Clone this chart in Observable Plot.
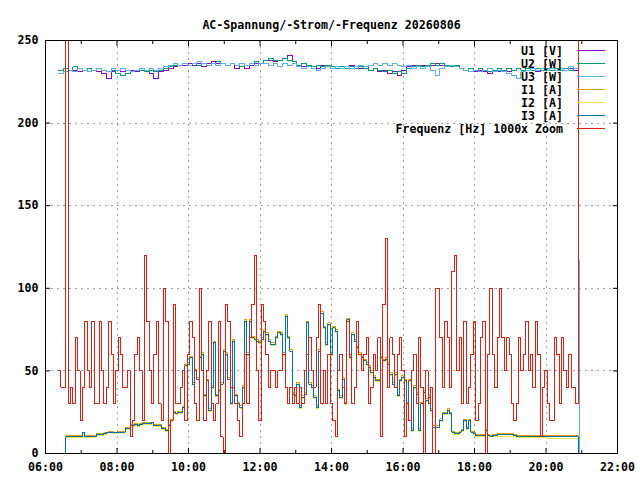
<!DOCTYPE html>
<html><head><meta charset="utf-8">
<script src="https://cdn.jsdelivr.net/npm/d3@7"></script>
<script src="https://cdn.jsdelivr.net/npm/@observablehq/plot@0.6"></script>
<style>body{margin:0;background:#fff}</style>
</head><body><div id="chart"></div>
<script>
const title = "AC-Spannung/-Strom/-Frequenz 20260806";
const seriesNames = ["U1 [V]", "U2 [W]", "U3 [W]", "I1 [A]", "I2 [A]", "I3 [A]", "Frequenz [Hz] 1000x Zoom"];
const seriesColors = ["#9400d3", "#009e73", "#56b4e9", "#e69f00", "#f0e442", "#0072b2", "#e51e10"];
const xTickLabels = ["06:00", "08:00", "10:00", "12:00", "14:00", "16:00", "18:00", "20:00", "22:00"];
const xMinorTicks = ["07:00", "09:00", "11:00", "13:00", "15:00", "17:00", "19:00", "21:00"];
const yTicks = [0, 50, 100, 150, 200, 250];

// sampling (minutes after midnight)
const fastStartMin = 382, fastStepMin = 4;   // frequency and currents
const slowStartMin = 382, slowStepMin = 8;   // voltages
const slowTailMin = [1254, 1256];           // last two voltage samples

const freq = [50,40,40,250,30,40,30,70,50,20, 40,80,50,40,80,30,30,80,50,30, 40,80,60,30,50,70,60,40,40,50,
 10,20,60,70,50,20,120,80,50,30, 60,80,30,20,100,80,0,20,90,30, 30,40,50,20,60,80,70,
 30,20,100,50,20,50,80,30,20,30, 80,10,0,90,80,40,40,30,20,10, 30,60,30,70,90,120,50,20,90,80,
 60,40,50,50,40,50,50,60,40,30, 40,30,40,30,40,30,50,60,70,50, 40,70,90,30,50,30,60,30,
 20,10,50,60,40,30,80,60,30,40, 80,60,50,60,70,30,40,60,50,70, 10,90,130,40,70,60,40,60,70,50,
 10,30,20,50,60,30,70,40,0,50, 30,40,0,100,100,70,40,80,70,40, 110,120,50,70,30,80,
 30,40,60,80,20,30,70,80,0,60, 100,60,40,70,100,70,50,70,60,30, 20,30,70,50,60,80,50,60,40,80,
 60,10,40,50,30,20,20,70,60,30, 70,50,40,60,40,40,30,250];

const i1 = [0,0,0,10.6,10.6,10.6,10.6,10.6,10.6,10.6, 13,10.6,10.6,10.6,10.6,11,12,12,12,12.5, 13,13.5,13.5,13,13,13.5,13.5,13.5,15.5,15.5,
 17.5,17.5,18,17.5,18,18.5,18.5,18.5,18.5,19, 17.5,17.5,17.5,15.5,15.5,14.5,17.5,20.5,25.5,24.5, 25.5,25.5,28.5,54,55,59,43,
 51,46,59,61,36,45,27,41,68,36, 39,43,63,61,46,31,69,36,31,29, 41,81,61,81,71,70,69,68,70,75,
 73,69,67,67,71,74,73,61,84,71, 63,37,36,43,29,35,37,80,43,41, 35,29,63,86,77,67,79,61,
 77,75,39,35,46,31,82,59,73,69, 65,61,59,57,55,53,50,47,45,45, 59,57,58,55,49,43,49,36,45,47,
 45,31,45,15,41,37,15,31,38,33, 35,27,17,17,17,21,25,25,27,25, 13.5,12.5,12.5,13.5,14.5,20.5,
 15.5,20.5,13.5,12.5,11.5,11.5,11.5,11.5,14.5,11.5, 11,11.5,11.5,12,12,12,12,12,12,12, 11.5,11,11,11,11,11,11,11,11,11,
 11,11,11,11,10.8,10.8,10.8,10.8,10.8,10.8, 10.8,10.8,10.8,10.8,10.8,10.8,10.8,0];

const i2 = [0,0,0,9.4,9.4,9.4,9.4,9.4,9.4,9.4, 12,9.4,9.4,9.4,9.4,10,11,11,11,11.5, 12,12.5,12.5,12,12,12.5,12.5,12.5,14.5,14.5,
 16.5,16.5,17,16.5,17,17.5,17.5,17.5,17.5,18, 16.5,16.5,16.5,14.5,14.5,13.5,16.5,19.5,24.5,23.5, 24.5,24.5,27.5,52.5,53.5,57.5,41.5,
 49.5,44.5,57.5,59.5,34.5,43.5,25.5,39.5,66.5,34.5, 37.5,41.5,61.5,59.5,44.5,29.5,67.5,34.5,29.5,27.5, 39.5,79.5,59.5,79.5,69.5,68.5,67.5,66.5,68.5,73.5,
 71.5,67.5,65.5,65.5,69.5,72.5,71.5,59.5,82.5,69.5, 61.5,35.5,34.5,41.5,27.5,33.5,35.5,78.5,41.5,39.5, 33.5,27.5,61.5,84.5,75.5,65.5,77.5,59.5,
 75.5,73.5,37.5,33.5,44.5,29.5,80.5,57.5,71.5,67.5, 63.5,59.5,57.5,55.5,53.5,51.5,48.5,45.5,43.5,43.5, 57.5,55.5,56.5,53.5,47.5,41.5,47.5,34.5,43.5,45.5,
 43.5,29.5,43.5,13.5,39.5,35.5,13.5,29.5,36.5,31.5, 33.5,25.5,15.5,15.5,15.5,19.5,23.5,23.5,25.5,23.5, 12.5,11.5,11.5,12.5,13.5,19.5,
 14.5,19.5,12.5,11.5,10.5,10.5,10.5,10.5,13.5,10.5, 10,10.5,10.5,10.5,10.5,10.5,10.5,10.5,10.5,10.5, 10,9.5,9.5,9.5,9.5,9.5,9.5,9.5,9.5,9.5,
 9.5,9.5,9.5,9.5,9.2,9.2,9.2,9.2,9.2,9.2, 9.2,9.2,9.2,9.2,9.2,9.2,9.2,0];

const i3 = [0,0,0,10,10,10,10,10,10,10, 12.5,10,10,10,10,10.5,11.5,11.5,11.5,12, 12.5,13,13,12.5,12.5,13,13,13,15,15,
 17,17,17.5,17,17.5,18,18,18,18,18.5, 17,17,17,15,15,14,17,20,25,24, 25,25,28,53,54,58,42,
 50,45,58,60,35,44,26,40,67,35, 38,42,62,60,45,30,68,35,30,28, 40,80,60,80,70,69,68,67,69,74,
 72,68,66,66,70,73,72,60,83,70, 62,36,35,42,28,34,36,79,42,40, 34,28,62,85,76,66,78,60,
 76,74,38,34,45,30,81,58,72,68, 64,60,58,56,54,52,49,46,44,44, 58,56,57,54,48,42,48,35,44,46,
 44,30,44,14,40,36,14,30,37,32, 34,26,16,16,16,20,24,24,26,24, 13,12,12,13,14,20,
 15,20,13,12,11,11,11,11,14,11, 10.5,11,11,11.5,11.5,11.5,11.5,11.5,11.5,11.5, 11,10.5,10.5,10.5,10.5,10.5,10.5,10.5,10.5,10.5,
 10.5,10.5,10.5,10.5,10,10,10,10,10,10, 10,10,10,10,10,10,10,0];

const u1 = [232,231,232,232,231,232,231,232,231,230, 227,231,232,231,232,232,231,232,231,230, 227,231,232,233,234,235,235,236,235,236,
 234,236,237,236,236,235,236,233,234,233, 235,236,236,238,238,237,238,239,241,237, 235,234,235,234,233,235,234,234,233,234,
 233,235,234,233,234,232,233,231,232,230, 231,229,232,234,235,234,235,234,235,236, 235,234,235,234,233,232,233,231,232,231,
 230,232,231,232,231,232,233,232,233,232, 231,233,232,233,232,233,232,233,232, 117,0];
const u2 = [232,233,232,234,233,232,233,232,233,232, 231,232,230,229,230,231,232,232,231,232, 231,232,233,234,235,235,236,235,236,235,
 236,235,236,237,236,235,236,235,234,235, 236,237,236,238,239,238,238,239,238,237, 235,236,235,234,235,234,235,234,233,234,
 233,234,233,234,233,232,233,232,231,232, 230,231,230,233,234,235,234,235,236,235, 236,235,234,235,233,232,233,232,233,232,
 231,232,233,232,233,232,233,232,233,232, 233,232,233,232,233,232,233,232,233, 117,0];
const u3 = [230,231,232,231,233,232,231,232,233,232, 231,233,232,233,232,231,232,233,232,233, 232,233,234,235,236,235,236,235,236,237,
 236,235,236,235,236,235,236,235,236,235, 236,235,236,236,235,236,234,236,235,236, 234,233,234,233,232,233,234,233,234,233,
 234,233,234,235,234,235,236,235,236,235, 236,235,234,235,233,234,233,234,232,229, 233,234,235,234,233,232,231,232,231,232,
 233,231,232,231,230,229,227,231,232,233, 232,233,232,233,232,233,232,234,233, 117,0];

[i1, i2, i3].forEach(a => { if (a.length !== freq.length) throw new Error("fast length " + a.length + " vs " + freq.length); });
[u2, u3].forEach(a => { if (a.length !== u1.length) throw new Error("slow length " + a.length + " vs " + u1.length); });

const day = m => new Date(Date.UTC(2026, 7, 6, 0, m));
const parseHM = s => { const [h, m] = s.split(":").map(Number); return day(h * 60 + m); };
const tFast = freq.map((_, i) => day(fastStartMin + i * fastStepMin));
const nSlowGrid = u1.length - slowTailMin.length;
const tSlow = u1.map((_, i) => i < nSlowGrid ? day(slowStartMin + i * slowStepMin) : day(slowTailMin[i - nSlowGrid]));

const toRows = (times, vals) => vals.map((v, i) => ({t: times[i], v}));
const seriesData = [
  toRows(tSlow, u1), toRows(tSlow, u2), toRows(tSlow, u3),
  toRows(tFast, i1), toRows(tFast, i2), toRows(tFast, i3),
  toRows(tFast, freq)
];

const majorX = xTickLabels.map(parseHM);
const minorX = xMinorTicks.map(parseHM);
const gridStyle = {stroke: "#a0a0a0", strokeOpacity: 1, strokeDasharray: "2,4", strokeWidth: 1, shapeRendering: "crispEdges"};
const blank = () => "";

const plot = Plot.plot({
  width: 640, height: 480,
  marginLeft: 45, marginRight: 23, marginTop: 40, marginBottom: 27,
  style: {fontFamily: "'DejaVu Sans Mono', monospace", fontSize: "11.6px", fontWeight: "bold", background: "white", color: "black", overflow: "visible"},
  x: {type: "utc", domain: [parseHM("06:00"), parseHM("22:00")]},
  y: {domain: [0, 250]},
  marks: [
    Plot.gridX(majorX.slice(1, -1), gridStyle),
    Plot.gridY(yTicks.slice(1, -1), gridStyle),
    ...seriesData.map((rows, k) => Plot.line(rows, {x: "t", y: "v", curve: "step-after", stroke: seriesColors[k], strokeWidth: 1, clip: true, shapeRendering: "crispEdges"})),
    Plot.frame({stroke: "black", strokeWidth: 1, shapeRendering: "crispEdges"}),
    Plot.axisX(majorX, {anchor: "bottom", tickSize: 0, tickPadding: 9, tickFormat: d3.utcFormat("%H:%M"), label: null}),
    Plot.axisX(majorX, {anchor: "bottom", tickSize: -5, tickFormat: blank, label: null}),
    Plot.axisX(majorX, {anchor: "top", tickSize: -5, tickFormat: blank, label: null}),
    Plot.axisX(minorX, {anchor: "bottom", tickSize: -3, tickFormat: blank, label: null}),
    Plot.axisX(minorX, {anchor: "top", tickSize: -3, tickFormat: blank, label: null}),
    Plot.axisY(yTicks, {anchor: "left", tickSize: 0, tickPadding: 7, label: null}),
    Plot.axisY(yTicks, {anchor: "left", tickSize: -5, tickFormat: blank, label: null}),
    Plot.axisY(yTicks, {anchor: "right", tickSize: -5, tickFormat: blank, label: null}),
    Plot.text([title], {text: d => d, frameAnchor: "top", dy: -20})
  ]
});

// legend (key) in the top right corner of the plot area
const svg = d3.select(plot);
const key = svg.append("g");
seriesNames.forEach((name, k) => {
  const y = 50.5 + 13 * k;
  key.append("text").attr("x", 563).attr("y", y).attr("text-anchor", "end").attr("dy", "0.35em").attr("fill", "black").text(name);
  key.append("line").attr("x1", 577).attr("x2", 605).attr("y1", y).attr("y2", y).attr("stroke", seriesColors[k]).attr("stroke-width", 1).attr("shape-rendering", "crispEdges");
});

document.getElementById("chart").append(plot);
</script>
</body></html>
